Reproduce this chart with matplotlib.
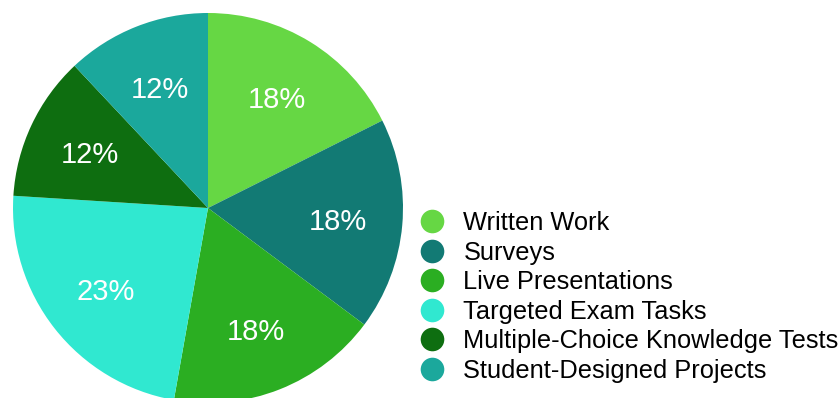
import matplotlib
matplotlib.use("Agg")
import matplotlib.pyplot as plt
from matplotlib.lines import Line2D

plt.rcParams['font.family'] = ['Liberation Sans', 'DejaVu Sans']

# share of each assessment type (percent), clockwise from 12 o'clock
categories = ["Written Work", "Surveys", "Live Presentations", "Targeted Exam Tasks",
              "Multiple-Choice Knowledge Tests", "Student-Designed Projects"]
shares = [17.6, 17.6, 17.6, 23.2, 12.0, 12.0]
colors = ["#66d744", "#127a74", "#2bae22", "#30e8d0", "#0e6e10", "#1ba89c"]

fig = plt.figure(figsize=(8.39, 3.98), dpi=100)
# pie centred near (208, 208) px, radius ~195 px, slightly clipped at the bottom
ax = fig.add_axes([13 / 839, -5 / 398, 390 / 839, 390 / 398])

wedges, texts, autotexts = ax.pie(
    shares, colors=colors, startangle=90, counterclock=False,
    autopct=lambda p: "%d%%" % round(p), pctdistance=0.67,
    wedgeprops=dict(linewidth=0), textprops=dict(color="white", fontsize=21))
for t in autotexts:
    t.set_va("center_baseline")
ax.set_xlim(-1, 1)
ax.set_ylim(-1, 1)
ax.set_aspect("equal")
for w in wedges:
    w.set_clip_on(False)

# legend with round markers
handles = [Line2D([], [], marker="o", linestyle="none", markersize=17,
                  markerfacecolor=c, markeredgewidth=0) for c in colors]
fig.legend(handles, categories, loc="center left",
           bbox_to_anchor=(419 / 839, (398 - 297) / 398),
           frameon=False, fontsize=18.3, labelspacing=0.22,
           handlelength=1.0, handletextpad=0.75, borderpad=0, borderaxespad=0)

fig.savefig("out.png", dpi=100)
